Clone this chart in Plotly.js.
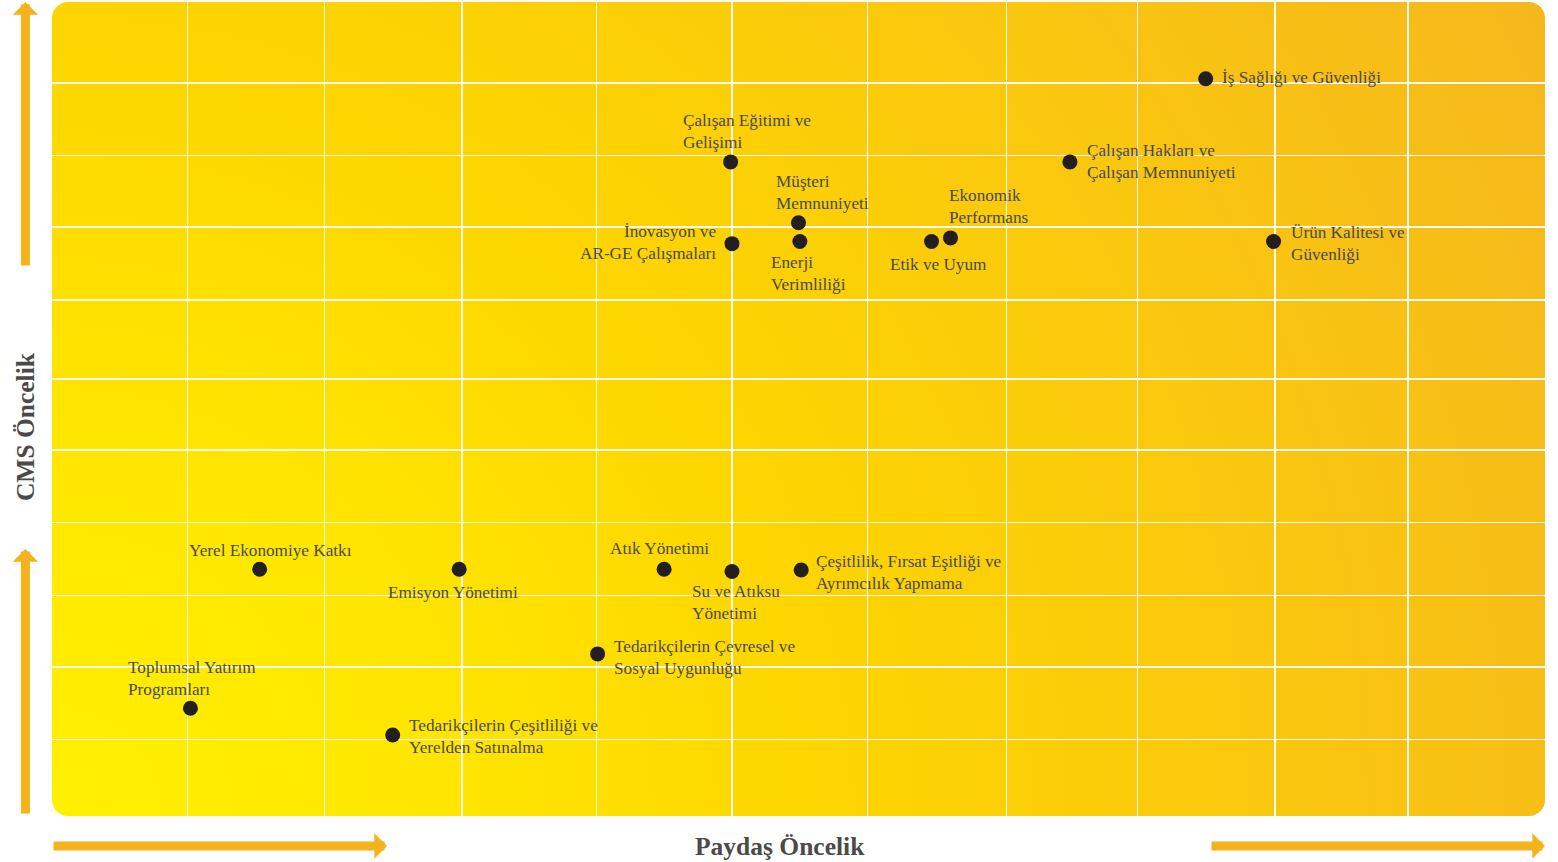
<!DOCTYPE html>
<html>
<head>
<meta charset="utf-8">
<script src="https://cdn.plot.ly/plotly-3.0.1.min.js"></script>
<style>
html,body{margin:0;padding:0;background:#ffffff;}
#chart{width:1558px;height:862px;}
</style>
</head>
<body>
<div id="chart"></div>
<script>
// ---- data ----
const topics = [
  "İş Sağlığı ve Güvenliği",
  "Çalışan Hakları ve<br>Çalışan Memnuniyeti",
  "Ürün Kalitesi ve<br>Güvenliği",
  "Çalışan Eğitimi ve<br>Gelişimi",
  "Müşteri<br>Memnuniyeti",
  "İnovasyon ve<br>AR-GE Çalışmaları",
  "Enerji<br>Verimliliği",
  "Etik ve Uyum",
  "Ekonomik<br>Performans",
  "Yerel Ekonomiye Katkı",
  "Toplumsal Yatırım<br>Programları",
  "Tedarikçilerin Çeşitliliği ve<br>Yerelden Satınalma",
  "Emisyon Yönetimi",
  "Atık Yönetimi",
  "Su ve Atıksu<br>Yönetimi",
  "Çeşitlilik, Fırsat Eşitliği ve<br>Ayrımcılık Yapmama",
  "Tedarikçilerin Çevresel ve<br>Sosyal Uygunluğu"
];
const paydasOncelik = [8.5, 7.5, 9.0, 5.0, 5.5, 5.01, 5.51, 6.48, 6.62, 1.53, 1.02, 2.51, 3.0, 4.51, 5.01, 5.52, 4.02];
const cmsOncelik    = [10.19, 9.04, 7.94, 9.04, 8.20, 7.91, 7.94, 7.94, 7.99, 3.41, 1.49, 1.12, 3.41, 3.41, 3.38, 3.40, 2.24];
const xGridVals = [1, 2.01, 3.02, 4.01, 5.01, 6.01, 7.03, 8, 9.01, 9.99];
const yGridVals = [1.06, 2.06, 3.05, 4.06, 5.06, 6.04, 7.13, 8.14, 9.13, 10.13];
const xTitle = "Paydaş Öncelik";
const yTitle = "CMS Öncelik";

// ---- label placement (style) ----
const labelPlacement = [
  {xa:'left',  dx:15,  dy:1},
  {xa:'left',  dx:16,  dy:0},
  {xa:'left',  dx:16,  dy:-2},
  {xa:'left',  dx:-49, dy:30},
  {xa:'left',  dx:-24, dy:30},
  {xa:'right', dx:-15, dy:1},
  {xa:'left',  dx:-30, dy:-32},
  {xa:'left',  dx:-43, dy:-23},
  {xa:'left',  dx:-3,  dy:31},
  {xa:'left',  dx:-72, dy:19},
  {xa:'left',  dx:-63, dy:30},
  {xa:'left',  dx:15,  dy:-2},
  {xa:'left',  dx:-72, dy:-23},
  {xa:'left',  dx:-55, dy:21},
  {xa:'left',  dx:-41, dy:-31},
  {xa:'left',  dx:14,  dy:-3},
  {xa:'left',  dx:15,  dy:-4}
];

const labelFont = {family:"Liberation Serif, Times New Roman, serif", size:17.2, color:"#4a4a48"};
const annotations = topics.map((t,i)=>({
  x: paydasOncelik[i], y: cmsOncelik[i], xref:'x', yref:'y',
  text: t, showarrow:false, align: labelPlacement[i].xa,
  xanchor: labelPlacement[i].xa, yanchor:'middle',
  xshift: labelPlacement[i].dx, yshift: labelPlacement[i].dy,
  font: labelFont, borderpad:0
}));

const arrowColor = "#F4B31D";
function arrow(x,y,ax,ay){
  return {x:x, y:y, xref:'paper', yref:'paper', ax:ax, ay:ay, axref:'pixel', ayref:'pixel',
    showarrow:true, arrowhead:1, arrowsize:0.47, arrowwidth:9, arrowcolor:arrowColor, text:'', standoff:0};
}
annotations.push(arrow(-0.0178, 1.0, 0, 265));
annotations.push(arrow(-0.0178, 0.328, 0, 266));
annotations.push(arrow(0.2244, -0.0369, -335, 0));
annotations.push(arrow(1.0, -0.0369, -335, 0));

annotations.push({x:0.4876, y:-0.038, xref:'paper', yref:'paper', text:'<b>'+xTitle+'</b>', showarrow:false,
  xanchor:'center', yanchor:'middle', font:{family:"Liberation Serif, Times New Roman, serif", size:25.5, color:"#4a4a48"}});
annotations.push({x:-0.0173, y:0.478, xref:'paper', yref:'paper', text:'<b>'+yTitle+'</b>', showarrow:false, textangle:-90,
  xanchor:'center', yanchor:'middle', font:{family:"Liberation Serif, Times New Roman, serif", size:25.5, color:"#4a4a48"}});

const bgSvg = '<svg xmlns="http://www.w3.org/2000/svg" width="1493" height="814" viewBox="0 0 1493 814" preserveAspectRatio="none">'+
 '<defs><radialGradient id="g" gradientUnits="userSpaceOnUse" cx="0" cy="814" r="1720">'+
 '<stop offset="0" stop-color="#FFF000"/>'+
 '<stop offset="0.22" stop-color="#FFE600"/>'+
 '<stop offset="0.45" stop-color="#FDD500"/>'+
 '<stop offset="0.7" stop-color="#FAC80E"/>'+
 '<stop offset="1" stop-color="#F5B71D"/>'+
 '</radialGradient></defs>'+
 '<rect x="0" y="0" width="1493" height="814" rx="16" ry="16" fill="url(#g)"/></svg>';
const bgUri = 'data:image/svg+xml;charset=utf-8,' + encodeURIComponent(bgSvg);

const trace = {
  x: paydasOncelik, y: cmsOncelik, type:'scatter', mode:'markers',
  marker:{size:15, color:'#231f20'}, hoverinfo:'skip', cliponaxis:false
};

const layout = {
  width:1558, height:862,
  margin:{l:52, r:13, t:2, b:46},
  paper_bgcolor:'#ffffff', plot_bgcolor:'rgba(0,0,0,0)',
  showlegend:false,
  xaxis:{range:[0,11], tickvals:xGridVals, showticklabels:false, ticks:'', showgrid:true,
    gridcolor:'rgba(255,255,255,0.95)', gridwidth:1.3, zeroline:false, showline:false, fixedrange:true},
  yaxis:{range:[0,11.25], tickvals:yGridVals, showticklabels:false, ticks:'', showgrid:true,
    gridcolor:'rgba(255,255,255,0.95)', gridwidth:1.3, zeroline:false, showline:false, fixedrange:true},
  images:[{source:bgUri, xref:'paper', yref:'paper', x:0, y:1, sizex:1, sizey:1,
    sizing:'stretch', xanchor:'left', yanchor:'top', layer:'below'}],
  annotations: annotations
};

Plotly.newPlot('chart', [trace], layout, {displayModeBar:false, staticPlot:true});
</script>
</body>
</html>
